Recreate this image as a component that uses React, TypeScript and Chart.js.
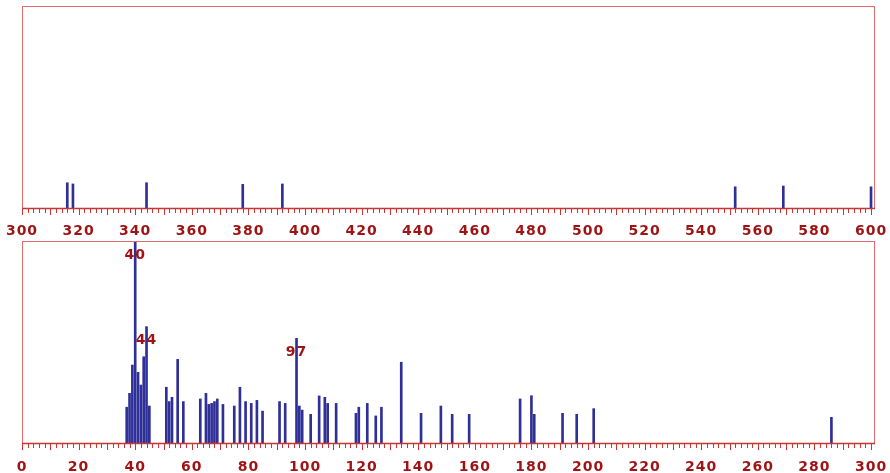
import React, { useEffect, useRef } from "react";
import { Chart, registerables } from "chart.js";

Chart.register(...registerables);

// ---- data ----
const highMz = [316, 318, 344, 378, 392, 552, 569, 600];
const highIntensity = [12.5, 11.9, 12.5, 11.7, 11.9, 10.5, 10.9, 10.5];
const highTickLabels = [300, 320, 340, 360, 380, 400, 420, 440, 460, 480, 500, 520, 540, 560, 580, 600];

const lowMz = [
  37, 38, 39, 40, 41, 42, 43, 44, 45, 51, 52, 53, 55, 57, 63, 65, 66, 67, 68, 69, 71, 75, 77, 79, 81, 83, 85,
  91, 93, 97, 98, 99, 102, 105, 107, 108, 111, 118, 119, 122, 125, 127, 134, 141, 148, 152, 158, 176, 180, 181,
  191, 196, 202, 286,
];
const lowIntensity = [
  17.7, 24.6, 38.6, 100, 35, 28.7, 42.7, 57.6, 18.3, 27.6, 20.5, 22.6, 41.4, 20.5, 21.8, 24.6, 19.1, 19.6, 20.5,
  21.8, 19.1, 18.3, 27.6, 20.5, 19.6, 21.1, 15.8, 20.5, 19.6, 51.8, 18.3, 16.3, 14.2, 23.3, 22.6, 19.6, 19.6,
  14.7, 17.7, 19.6, 13.4, 17.7, 40, 14.7, 18.3, 14.2, 14.2, 21.8, 23.4, 14.2, 14.7, 14.2, 17, 12.7,
];
const lowTickLabels = [0, 20, 40, 60, 80, 100, 120, 140, 160, 180, 200, 220, 240, 260, 280, 300];
const lowPeakLabels = [40, 44, 97];
const highPeakLabels: number[] = [];

// ---- style ----
const FRAME = "#e26b6b";
const AXIS = "#c93434";
const LABEL = "#9e1414";
const BAR = "#2f2f98";
const FONT_FAMILY = '"DejaVu Sans", sans-serif';
const SPACING = "1px";

function makeDecor(tickMin: number, tickMax: number, mz: number[], peaks: number[]) {
  return {
    id: "decor",
    beforeDraw(chart: any) {
      const ctx = chart.ctx;
      try {
        ctx.letterSpacing = SPACING;
      } catch (e) {}
    },
    afterDatasetsDraw(chart: any) {
      const { ctx } = chart;
      const meta = chart.getDatasetMeta(0);
      ctx.save();
      try {
        ctx.letterSpacing = SPACING;
      } catch (e) {}
      ctx.fillStyle = LABEL;
      ctx.font = `bold 14px ${FONT_FAMILY}`;
      ctx.textAlign = "center";
      ctx.textBaseline = "middle";
      peaks.forEach((p) => {
        const idx = mz.indexOf(p);
        if (idx < 0) return;
        const el = meta.data[idx];
        ctx.fillText(String(p), el.x, el.y + 14);
      });
      ctx.restore();
    },
    afterDraw(chart: any) {
      const { ctx, chartArea: a, scales } = chart;
      const xs = scales.x;
      ctx.save();
      ctx.strokeStyle = FRAME;
      ctx.lineWidth = 1;
      ctx.strokeRect(a.left + 0.5, a.top + 0.5, a.right - a.left - 1, a.bottom - a.top);
      // axis line
      ctx.strokeStyle = AXIS;
      ctx.lineWidth = 1.5;
      ctx.beginPath();
      ctx.moveTo(a.left, a.bottom + 0.5);
      ctx.lineTo(a.right, a.bottom + 0.5);
      ctx.stroke();
      // tick marks
      ctx.lineWidth = 1;
      ctx.beginPath();
      for (let v = tickMin; v <= tickMax + 1e-6; v += 2) {
        const x = Math.round(xs.getPixelForValue(v)) + 0.5;
        const len = v % 10 === 0 ? 7 : 5;
        ctx.moveTo(x, a.bottom);
        ctx.lineTo(x, a.bottom + len);
      }
      ctx.stroke();
      ctx.restore();
    },
  };
}

function makeConfig(
  mz: number[],
  intensity: number[],
  tickLabels: number[],
  min: number,
  max: number,
  peaks: number[],
  topPad: number,
  axisHeight: number,
  labelPad: number
): any {
  return {
    type: "bar",
    data: {
      datasets: [
        {
          data: mz.map((m, i) => ({ x: m, y: intensity[i] })),
          backgroundColor: BAR,
          borderWidth: 0,
          barThickness: 2,
          grouped: false,
        },
      ],
    },
    options: {
      animation: false,
      responsive: false,
      maintainAspectRatio: false,
      layout: { padding: { left: 22, right: 15, top: topPad, bottom: 0 } },
      plugins: { legend: { display: false }, tooltip: { enabled: false } },
      scales: {
        x: {
          type: "linear",
          min,
          max,
          offset: false,
          grid: { display: false, offset: false },
          border: { display: false },
          afterBuildTicks: (s: any) => {
            s.ticks = tickLabels.map((v) => ({ value: v }));
          },
          afterFit: (s: any) => {
            s.height = axisHeight;
            s.paddingLeft = 0;
            s.paddingRight = 0;
            s.paddingTop = 0;
            s.paddingBottom = 0;
          },
          ticks: {
            autoSkip: false,
            maxRotation: 0,
            minRotation: 0,
            padding: labelPad,
            color: LABEL,
            font: { family: FONT_FAMILY, size: 14, weight: "bold" },
            callback: (v: any) => String(v),
          },
        },
        y: { display: false, min: 0, max: 100 },
      },
    },
    plugins: [makeDecor(tickLabels[0], tickLabels[tickLabels.length - 1], mz, peaks)],
  };
}

export default function App() {
  const topRef = useRef<HTMLCanvasElement>(null);
  const botRef = useRef<HTMLCanvasElement>(null);

  useEffect(() => {
    const c1 = new Chart(
      topRef.current as HTMLCanvasElement,
      makeConfig(highMz, highIntensity, highTickLabels, 300, 601.4, highPeakLabels, 6, 28, 7)
    );
    const c2 = new Chart(
      botRef.current as HTMLCanvasElement,
      makeConfig(lowMz, lowIntensity, lowTickLabels, 0, 301.4, lowPeakLabels, 5, 30, 8)
    );
    return () => {
      c1.destroy();
      c2.destroy();
    };
  }, []);

  return (
    <div
      style={{
        position: "fixed",
        left: 0,
        top: 0,
        width: 890,
        height: 473,
        background: "#ffffff",
        overflow: "hidden",
      }}
    >
      <canvas
        ref={topRef}
        width={890}
        height={236}
        style={{ position: "absolute", left: 0, top: 0, width: 890, height: 236, display: "block" }}
      />
      <canvas
        ref={botRef}
        width={890}
        height={237}
        style={{ position: "absolute", left: 0, top: 236, width: 890, height: 237, display: "block" }}
      />
    </div>
  );
}
